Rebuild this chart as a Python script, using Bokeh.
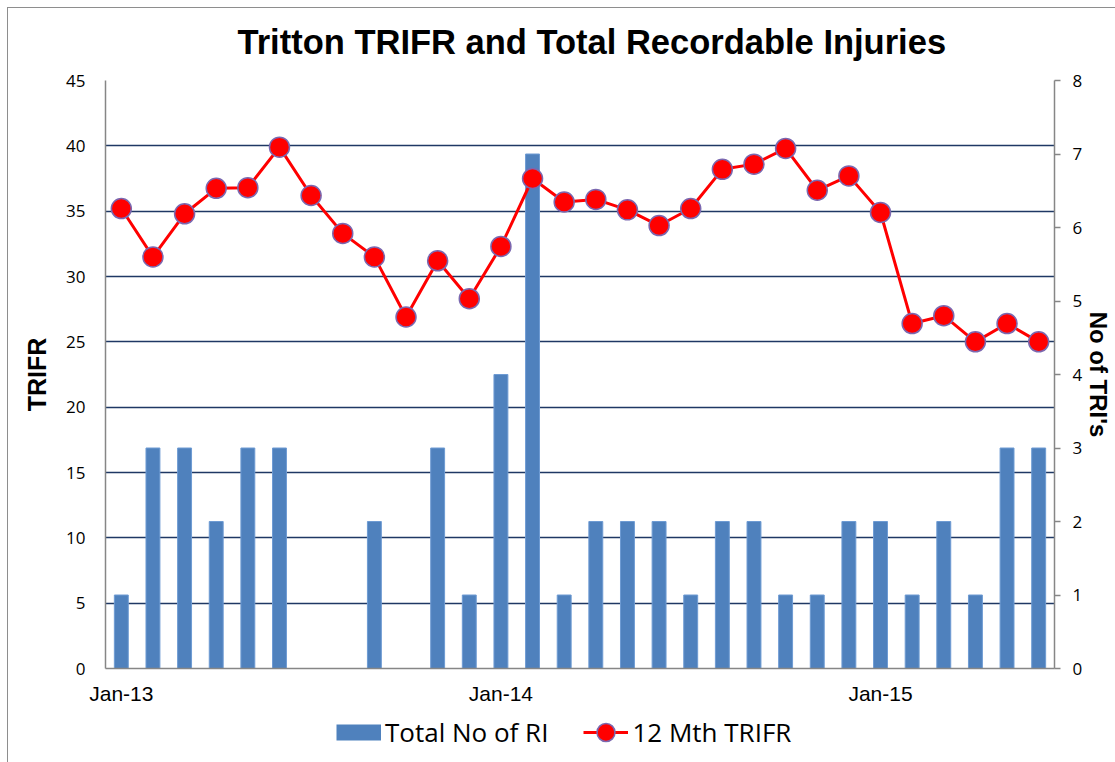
from bokeh.plotting import figure
from bokeh.layouts import column
from bokeh.models import Range1d, LinearAxis, FixedTicker, Legend, LegendItem, ColumnDataSource
from bokeh.embed import file_html
from bokeh.resources import INLINE

months = ["Jan-13", "Feb-13", "Mar-13", "Apr-13", "May-13", "Jun-13",
          "Jul-13", "Aug-13", "Sep-13", "Oct-13", "Nov-13", "Dec-13",
          "Jan-14", "Feb-14", "Mar-14", "Apr-14", "May-14", "Jun-14",
          "Jul-14", "Aug-14", "Sep-14", "Oct-14", "Nov-14", "Dec-14",
          "Jan-15", "Feb-15", "Mar-15", "Apr-15", "May-15", "Jun-15"]
total_ri = [1, 3, 3, 2, 3, 3, 0, 0, 2, 0, 3, 1, 4, 7, 1,
            2, 2, 2, 1, 2, 2, 1, 1, 2, 2, 1, 2, 1, 3, 3]
trifr_12m = [35.2, 31.5, 34.8, 36.75, 36.8, 39.9, 36.2, 33.3, 31.5, 26.9,
             31.2, 28.3, 32.3, 37.5, 35.7, 35.9, 35.1, 33.9, 35.2, 38.2,
             38.6, 39.8, 36.6, 37.7, 34.9, 26.4, 27.0, 25.0, 26.4, 25.0]
left_ticks = [0, 5, 10, 15, 20, 25, 30, 35, 40, 45]
right_ticks = [0, 1, 2, 3, 4, 5, 6, 7, 8]

BAR_COLOR = "#4F81BD"
LINE_COLOR = "#FF0000"
MARKER_EDGE = "#7B68B0"
FRAME_GREY = "#8E8E8E"

idx = list(range(len(months)))
src = ColumnDataSource(dict(x=idx, ri=total_ri, trifr=trifr_12m))
year_ticks = [i for i, m in enumerate(months) if m.startswith("Jan")]

p = figure(width=1115, height=708, output_backend="svg", toolbar_location=None,
           x_range=Range1d(-0.5, len(months) - 0.5), y_range=Range1d(0, 45),
           min_border_left=105, min_border_right=61, min_border_top=80, min_border_bottom=40,
           title="Tritton TRIFR and Total Recordable Injuries")
p.outline_line_color = None
p.background_fill_color = "white"
p.border_fill_color = None
p.styles = {"background": (f"linear-gradient({FRAME_GREY},{FRAME_GREY}) 7px 7px / 1px 100% no-repeat, "
                           f"linear-gradient({FRAME_GREY},{FRAME_GREY}) 7px 7px / 100% 1px no-repeat, white")}

p.title.text_font = "Liberation Sans"
p.title.text_font_size = "34.5px"
p.title.text_font_style = "bold"
p.title.text_color = "black"
p.title.align = "left"
p.title.offset = 132
p.title.standoff = 39

p.extra_y_ranges = {"right": Range1d(0, 8)}

# grid
p.xgrid.visible = False
p.ygrid.ticker = FixedTicker(ticks=left_ticks)
p.ygrid.grid_line_color = "#1F3864"
p.ygrid.grid_line_width = 1.5

# left axis
ly = p.yaxis[0]
ly.ticker = FixedTicker(ticks=left_ticks)
ly.axis_label = "TRIFR"
ly.axis_label_text_font = "Liberation Sans"
ly.axis_label_text_font_size = "25px"
ly.axis_label_text_font_style = "bold"
ly.axis_label_text_color = "black"
ly.axis_label_standoff = 12
ly.major_label_text_font = "Open Sans"
ly.major_label_text_font_size = "17px"
ly.major_label_text_color = "black"
ly.major_label_standoff = 20
ly.major_tick_out = 0
ly.major_tick_in = 0
ly.minor_tick_line_color = None
ly.axis_line_color = "#868686"
ly.axis_line_width = 1.5

# right axis
ry = LinearAxis(y_range_name="right", ticker=FixedTicker(ticks=right_ticks))
ry.axis_label = "No of TRI's"
ry.axis_label_text_font = "Liberation Sans"
ry.axis_label_text_font_size = "24px"
ry.axis_label_text_font_style = "bold"
ry.axis_label_text_color = "black"
ry.axis_label_standoff = 0
ry.major_label_text_font = "Open Sans"
ry.major_label_text_font_size = "17px"
ry.major_label_text_color = "black"
ry.major_label_standoff = 12
ry.major_tick_out = 6
ry.major_tick_in = 0
ry.major_tick_line_color = "#868686"
ry.major_tick_line_width = 1.5
ry.minor_tick_line_color = None
ry.axis_line_color = "#868686"
ry.axis_line_width = 1.5
p.add_layout(ry, "right")

# x axis
xa = p.xaxis[0]
xa.ticker = FixedTicker(ticks=year_ticks)
xa.major_label_overrides = {i: months[i] for i in year_ticks}
xa.major_label_text_font = "Liberation Sans"
xa.major_label_text_font_size = "21px"
xa.major_label_text_color = "black"
xa.major_label_standoff = 13
xa.major_tick_out = 0
xa.major_tick_in = 0
xa.minor_tick_line_color = None
xa.axis_line_color = "#868686"
xa.axis_line_width = 1.5

# bars
p.vbar(x="x", top="ri", width=0.44, source=src, y_range_name="right",
       fill_color=BAR_COLOR, line_color="#6E9BD3", line_width=1)

# line + markers
p.line(x="x", y="trifr", source=src, line_color=LINE_COLOR, line_width=3)
p.scatter(x="x", y="trifr", source=src, marker="circle", size=20,
          fill_color=LINE_COLOR, line_color=MARKER_EDGE, line_width=1.5)

# legend strip below the chart (proxy glyphs without data)
lf = figure(width=1115, height=54, output_backend="svg", toolbar_location=None,
            x_axis_type=None, y_axis_type=None, min_border=0,
            x_range=Range1d(0, 1), y_range=Range1d(0, 1))
lf.outline_line_color = None
lf.grid.visible = False
lf.background_fill_color = None
lf.border_fill_color = None
lf.styles = {"background": f"linear-gradient({FRAME_GREY},{FRAME_GREY}) 7px 0 / 1px 100% no-repeat, white"}
nan = float("nan")
sw = lf.line(x=[nan], y=[nan], line_color=BAR_COLOR, line_width=16, line_cap="butt")
pl = lf.line(x=[nan], y=[nan], line_color=LINE_COLOR, line_width=3)
ps = lf.scatter(x=[nan], y=[nan], marker="circle", size=20,
                fill_color=LINE_COLOR, line_color=MARKER_EDGE, line_width=1.5)
legend = Legend(items=[LegendItem(label="Total No of RI", renderers=[sw]),
                       LegendItem(label="12 Mth TRIFR", renderers=[pl, ps])],
                orientation="horizontal", location=(231, 6),
                glyph_width=45, glyph_height=48, label_standoff=4, spacing=35,
                padding=0, margin=0, border_line_color=None, background_fill_alpha=0,
                label_text_font="Open Sans", label_text_font_size="26px",
                label_text_color="black")
lf.add_layout(legend)

layout = column(p, lf, spacing=0)
open("out.html", "w").write(file_html(layout, INLINE))
